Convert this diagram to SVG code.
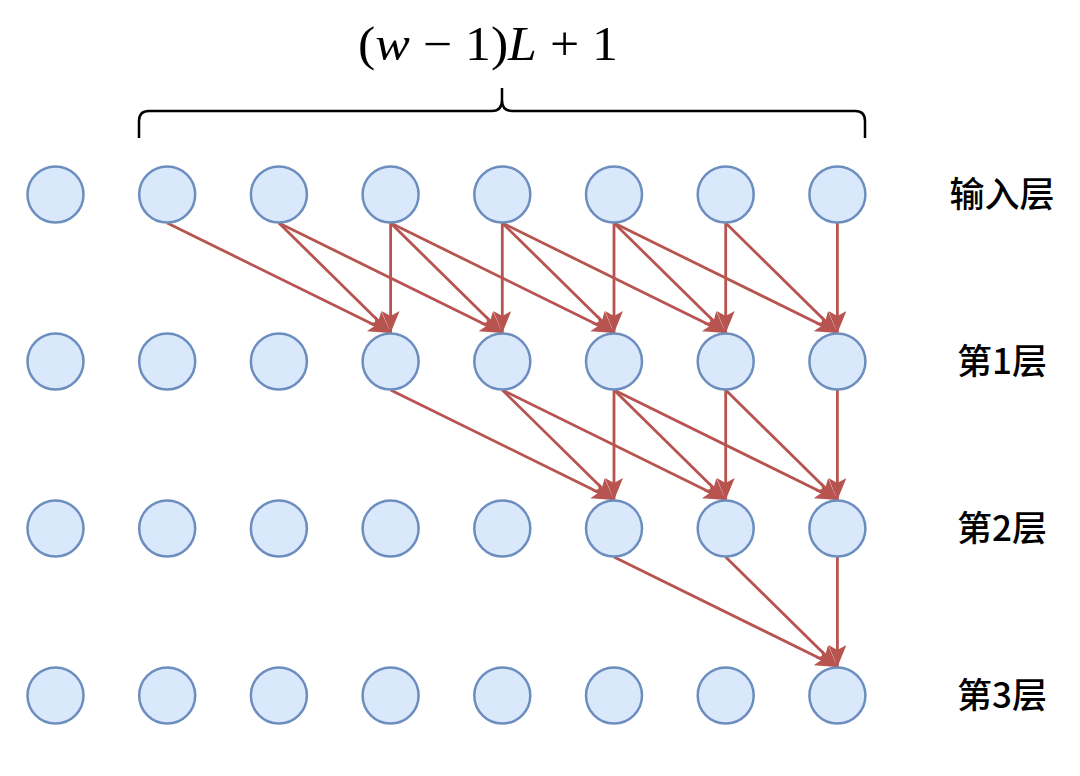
<svg xmlns="http://www.w3.org/2000/svg" width="1080" height="776" viewBox="0 0 1080 776">
<style>
.n{fill:#dae8fc;stroke:#6c8ebf;stroke-width:2.5}
.e{stroke:#b85450;stroke-width:2.8;fill:none;marker-end:url(#ah)}
.lbl{font-family:"Noto Sans CJK SC","Noto Sans",sans-serif;font-size:35px;fill:#000;text-anchor:middle;font-weight:500}
.f{font-family:"Liberation Serif","Times New Roman",serif;font-size:48px;fill:#000}
.i{font-style:italic}
</style>
<defs>
<marker id="ah" markerUnits="userSpaceOnUse" markerWidth="24" markerHeight="20" refX="22" refY="9" orient="auto">
<path d="M0,0 L22,9 L0,18 L5,9 Z" fill="#b85450"/>
</marker>
</defs>
<rect width="1080" height="776" fill="#fff"/>
<g id="formula" transform="translate(488,0) scale(1.08,1)">
<text class="f" x="0" y="60" text-anchor="middle">(<tspan class="i">w</tspan> − 1)<tspan class="i">L</tspan> + 1</text>
</g>
<g id="brace">
<path d="M139,138 V121 Q139,111 149,111 H492 Q502,111 502,100 V88 M502,100 Q502,111 512,111 H855 Q865,111 865,121 V138" fill="none" stroke="#000" stroke-width="2.5"/>
</g>
<g id="edges">
<line class="e" x1="167.2" y1="223" x2="390.6" y2="333"/>
<line class="e" x1="278.9" y1="223" x2="390.6" y2="333"/>
<line class="e" x1="390.6" y1="223" x2="390.6" y2="333"/>
<line class="e" x1="278.9" y1="223" x2="502.3" y2="333"/>
<line class="e" x1="390.6" y1="223" x2="502.3" y2="333"/>
<line class="e" x1="502.3" y1="223" x2="502.3" y2="333"/>
<line class="e" x1="390.6" y1="223" x2="614" y2="333"/>
<line class="e" x1="502.3" y1="223" x2="614" y2="333"/>
<line class="e" x1="614" y1="223" x2="614" y2="333"/>
<line class="e" x1="502.3" y1="223" x2="725.7" y2="333"/>
<line class="e" x1="614" y1="223" x2="725.7" y2="333"/>
<line class="e" x1="725.7" y1="223" x2="725.7" y2="333"/>
<line class="e" x1="614" y1="223" x2="837.4" y2="333"/>
<line class="e" x1="725.7" y1="223" x2="837.4" y2="333"/>
<line class="e" x1="837.4" y1="223" x2="837.4" y2="333"/>
<line class="e" x1="390.6" y1="390" x2="614" y2="500"/>
<line class="e" x1="502.3" y1="390" x2="614" y2="500"/>
<line class="e" x1="614" y1="390" x2="614" y2="500"/>
<line class="e" x1="502.3" y1="390" x2="725.7" y2="500"/>
<line class="e" x1="614" y1="390" x2="725.7" y2="500"/>
<line class="e" x1="725.7" y1="390" x2="725.7" y2="500"/>
<line class="e" x1="614" y1="390" x2="837.4" y2="500"/>
<line class="e" x1="725.7" y1="390" x2="837.4" y2="500"/>
<line class="e" x1="837.4" y1="390" x2="837.4" y2="500"/>
<line class="e" x1="614" y1="557" x2="837.4" y2="667"/>
<line class="e" x1="725.7" y1="557" x2="837.4" y2="667"/>
<line class="e" x1="837.4" y1="557" x2="837.4" y2="667"/>
</g>
<g id="layer0">
<circle id="n0_0" class="n" cx="55.5" cy="194.5" r="28"/>
<circle id="n0_1" class="n" cx="167.2" cy="194.5" r="28"/>
<circle id="n0_2" class="n" cx="278.9" cy="194.5" r="28"/>
<circle id="n0_3" class="n" cx="390.6" cy="194.5" r="28"/>
<circle id="n0_4" class="n" cx="502.3" cy="194.5" r="28"/>
<circle id="n0_5" class="n" cx="614" cy="194.5" r="28"/>
<circle id="n0_6" class="n" cx="725.7" cy="194.5" r="28"/>
<circle id="n0_7" class="n" cx="837.4" cy="194.5" r="28"/>
</g>
<g id="layer1">
<circle id="n1_0" class="n" cx="55.5" cy="361.5" r="28"/>
<circle id="n1_1" class="n" cx="167.2" cy="361.5" r="28"/>
<circle id="n1_2" class="n" cx="278.9" cy="361.5" r="28"/>
<circle id="n1_3" class="n" cx="390.6" cy="361.5" r="28"/>
<circle id="n1_4" class="n" cx="502.3" cy="361.5" r="28"/>
<circle id="n1_5" class="n" cx="614" cy="361.5" r="28"/>
<circle id="n1_6" class="n" cx="725.7" cy="361.5" r="28"/>
<circle id="n1_7" class="n" cx="837.4" cy="361.5" r="28"/>
</g>
<g id="layer2">
<circle id="n2_0" class="n" cx="55.5" cy="528.5" r="28"/>
<circle id="n2_1" class="n" cx="167.2" cy="528.5" r="28"/>
<circle id="n2_2" class="n" cx="278.9" cy="528.5" r="28"/>
<circle id="n2_3" class="n" cx="390.6" cy="528.5" r="28"/>
<circle id="n2_4" class="n" cx="502.3" cy="528.5" r="28"/>
<circle id="n2_5" class="n" cx="614" cy="528.5" r="28"/>
<circle id="n2_6" class="n" cx="725.7" cy="528.5" r="28"/>
<circle id="n2_7" class="n" cx="837.4" cy="528.5" r="28"/>
</g>
<g id="layer3">
<circle id="n3_0" class="n" cx="55.5" cy="695.5" r="28"/>
<circle id="n3_1" class="n" cx="167.2" cy="695.5" r="28"/>
<circle id="n3_2" class="n" cx="278.9" cy="695.5" r="28"/>
<circle id="n3_3" class="n" cx="390.6" cy="695.5" r="28"/>
<circle id="n3_4" class="n" cx="502.3" cy="695.5" r="28"/>
<circle id="n3_5" class="n" cx="614" cy="695.5" r="28"/>
<circle id="n3_6" class="n" cx="725.7" cy="695.5" r="28"/>
<circle id="n3_7" class="n" cx="837.4" cy="695.5" r="28"/>
</g>
<g id="labels">
<text class="lbl" x="1002" y="207">输入层</text>
<text class="lbl" x="1002" y="374">第1层</text>
<text class="lbl" x="1002" y="541">第2层</text>
<text class="lbl" x="1002" y="708">第3层</text>
</g>
</svg>
